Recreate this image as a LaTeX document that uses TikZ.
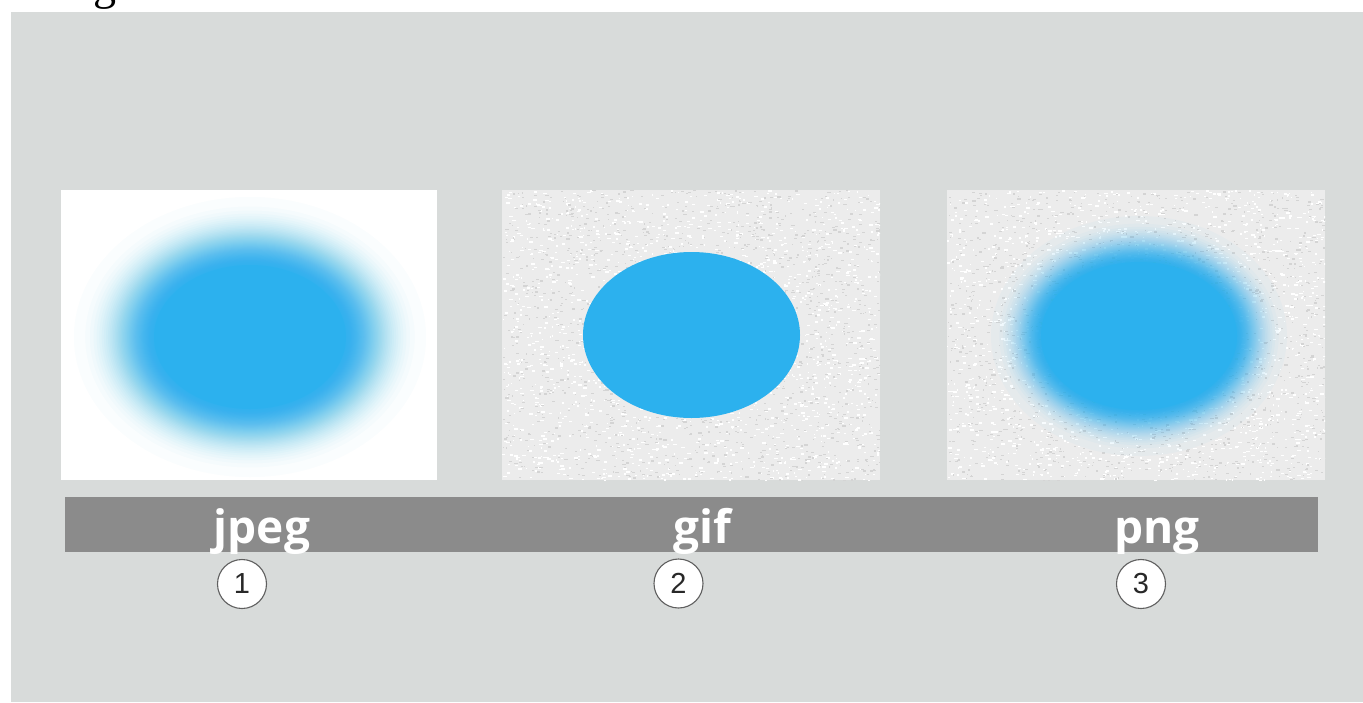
\documentclass[tikz,border=0pt]{standalone}
\usepackage{fontspec}
\setmainfont{Liberation Serif}
\newfontfamily\labelfont{Open Sans}
\newfontfamily\numfont{Liberation Sans}

\definecolor{canvas}{RGB}{216,219,218}
\definecolor{barfill}{RGB}{139,139,139}
\definecolor{blobblue}{RGB}{44,177,238}
\definecolor{grain}{RGB}{236,236,236}
\definecolor{speck}{RGB}{212,212,212}
\definecolor{ringgray}{RGB}{95,95,95}
\definecolor{digitgray}{RGB}{40,40,40}

\tikzset{
  panel/.style={fill=grain},
  darkspeck/.style={fill=speck},
  lightspeck/.style={fill=white},
  halo/.style={fill=blobblue, fill opacity=#1},
  fmtlabel/.style={text=white, font=\labelfont\bfseries\fontsize{46}{46}\selectfont, anchor=base, inner sep=0pt},
  badge/.style={circle, draw=ringgray, line width=1.1pt, fill=white, minimum size=49pt, inner sep=0pt,
    text=digitgray, font=\numfont\fontsize{29}{29}\selectfont},
}

% grainy paper texture inside a rectangle: #1,#2 = corner
\newcommand\grainpanel[2]{%
  \fill[panel] (#1,#2) rectangle ++(378,290);
  \begin{scope}
    \clip (#1,#2) rectangle ++(378,290);
    \foreach \i in {1,...,1800}
      \fill[lightspeck] ({#1+378*rnd},{#2+290*rnd}) rectangle ++({1+3*rnd},1.4);
    \foreach \i in {1,...,1500}
      \fill[darkspeck] ({#1+378*rnd},{#2+290*rnd}) rectangle ++({1+2.5*rnd},1.2);
  \end{scope}}

% soft-edged blob built from stacked translucent ellipses:
% sparse and faint outside, dense and stronger near the core
% #1,#2 centre; #3,#4 outer radii; #5,#6 core radii; #7 layers; #8 layer opacity
\newcommand\softblob[8]{%
  \foreach \k in {0,...,#7} {
    \pgfmathsetmacro\t{sqrt(\k/#7)}
    \pgfmathsetmacro\a{#8*(0.25+0.75*\k/#7)}
    \fill[halo=\a] (#1,#2) ellipse [x radius={#3-(#3-#5)*\t}, y radius={#4-(#4-#6)*\t}];
  }
  \fill[blobblue] (#1,#2) ellipse [x radius=#5, y radius=#6];}

\begin{document}
\begin{tikzpicture}[x=1pt, y=-1pt]
\useasboundingbox (0,0) rectangle (1363,702);
\fill[white] (0,0) rectangle (1363,702);

% tail of the heading letter above the canvas
\begin{scope}
  \clip (0,0) rectangle (1363,11);
  \node[anchor=base, inner sep=0pt, font=\fontsize{46}{46}\selectfont] (head) at (105,-1) {g};
\end{scope}

\fill[canvas] (11,12) rectangle (1363,702);

% jpeg panel
\fill[white] (61,190) rectangle (437,480);
\softblob{250}{337}{176}{140}{96}{72}{50}{0.09}

% gif panel
\pgfmathsetseed{11}
\grainpanel{502}{190}
\fill[blobblue] (691.5,335) ellipse [x radius=108.5, y radius=83];

% png panel
\pgfmathsetseed{23}
\grainpanel{947}{190}
\softblob{1139}{336}{148}{120}{98}{74}{36}{0.12}

% caption bar
\fill[barfill] (65,497) rectangle (1318,552);
\node[fmtlabel] (ljpeg) at (262,543) {jpeg};
\node[fmtlabel] (lgif) at (702,543) {gif};
\node[fmtlabel] (lpng) at (1157,543) {png};

% numbered badges
\node[badge] (n1) at (242,584) {1};
\node[badge] (n2) at (678.5,583.5) {2};
\node[badge] (n3) at (1141,584) {3};
\end{tikzpicture}
\end{document}
